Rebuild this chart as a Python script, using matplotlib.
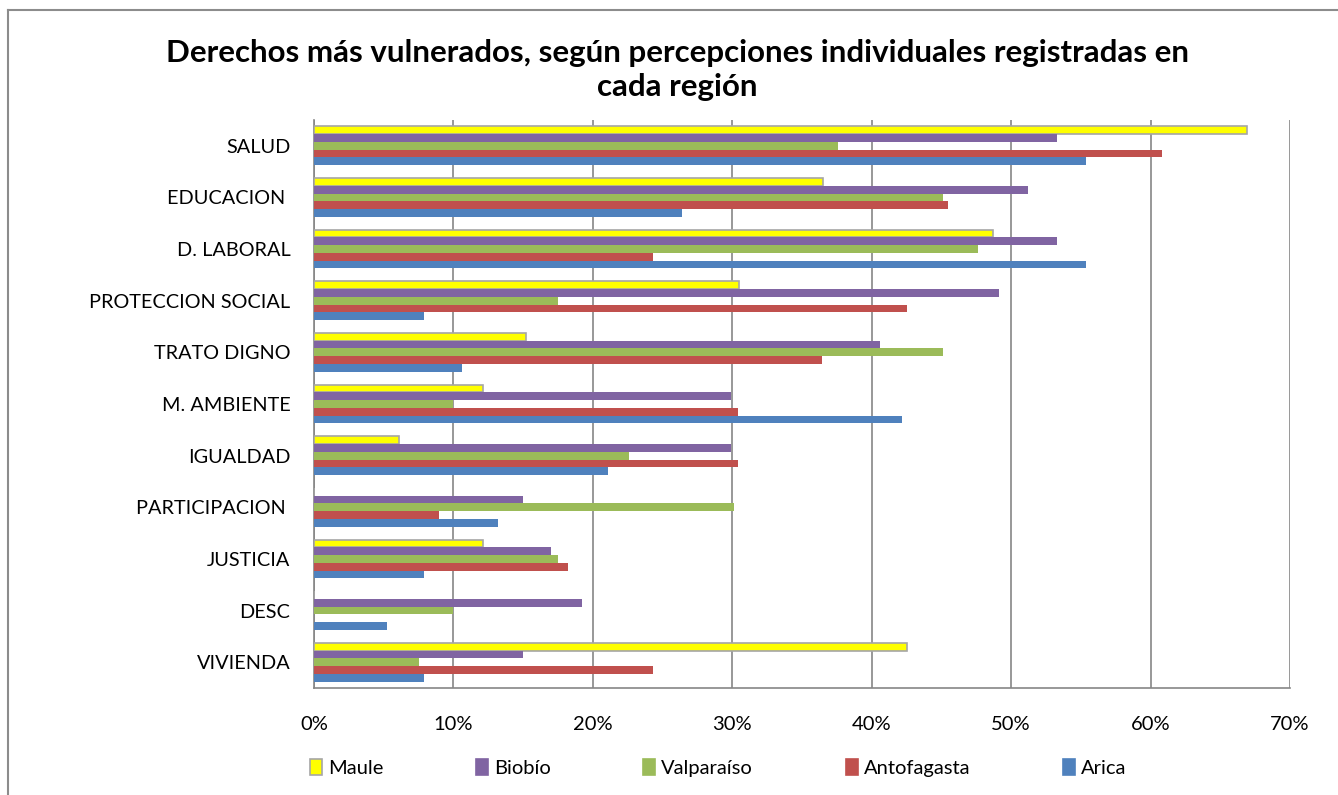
import matplotlib
matplotlib.use("Agg")
import matplotlib.pyplot as plt
import numpy as np
from matplotlib.patches import Rectangle
from matplotlib.lines import Line2D

categories = ["SALUD", "EDUCACION ", "D. LABORAL", "PROTECCION SOCIAL", "TRATO DIGNO",
              "M. AMBIENTE", "IGUALDAD", "PARTICIPACION ", "JUSTICIA", "DESC", "VIVIENDA"]
series_names = ["Maule", "Biobío", "Valparaíso", "Antofagasta", "Arica"]
maule       = [66.9, 36.5, 48.7, 30.5, 15.2, 12.1, 6.1, 0.0, 12.1, 0.0, 42.5]
biobio      = [53.3, 51.2, 53.3, 49.1, 40.6, 29.9, 29.9, 15.0, 17.0, 19.2, 15.0]
valparaiso  = [37.6, 45.1, 47.6, 17.5, 45.1, 10.0, 22.6, 30.1, 17.5, 10.0, 7.5]
antofagasta = [60.8, 45.5, 24.3, 42.5, 36.4, 30.4, 30.4, 9.0, 18.2, 0.0, 24.3]
arica       = [55.4, 26.4, 55.4, 7.9, 10.6, 42.2, 21.1, 13.2, 7.9, 5.2, 7.9]
x_ticks = [0, 10, 20, 30, 40, 50, 60, 70]
tick_labels = ["0%", "10%", "20%", "30%", "40%", "50%", "60%", "70%"]

values = [maule, biobio, valparaiso, antofagasta, arica]
colors = ["#FFFF00", "#8064A2", "#9BBB59", "#C0504D", "#4F81BD"]
edges = ["#A6A6A6", "none", "none", "none", "none"]

W, H = 1338, 795
fig = plt.figure(figsize=(W / 100, H / 100), dpi=100)
plt.rcParams['font.family'] = ['Lato', 'DejaVu Sans']

ax = fig.add_axes([314 / W, 1 - 688 / H, (1290 - 314) / W, (688 - 120) / H])

n = len(categories)
ypos = np.arange(n)[::-1]  # SALUD at top
bh = 0.15
for i, (vals, c, ec) in enumerate(zip(values, colors, edges)):
    off = (2 - i) * bh  # Maule topmost
    ax.barh(ypos + off, vals, height=bh, color=c, edgecolor=ec,
            linewidth=1.2 if ec != "none" else 0, label=series_names[i], zorder=3)

ax.set_xlim(0, 70)
ax.set_ylim(-0.5, n - 0.5)
ax.set_xticks(x_ticks)
ax.set_xticklabels(tick_labels, fontsize=14.5)
ax.set_yticks(ypos)
ax.set_yticklabels(categories, fontsize=14.3)
ax.tick_params(axis='y', length=0, pad=17)
ax.tick_params(axis='x', length=0, pad=20)
ax.grid(axis='x', color='#868686', linewidth=1.2, zorder=0)
ax.spines['top'].set_visible(False)
ax.spines['right'].set_visible(False)
ax.spines['left'].set_color('#868686')
ax.spines['bottom'].set_color('#868686')
ax.spines['left'].set_linewidth(1.2)
ax.spines['bottom'].set_linewidth(1.2)

fig.text(677 / W, 1 - 70 / H, "Derechos más vulnerados, según percepciones individuales registradas en\ncada región",
         ha='center', va='center', fontsize=22.5, fontweight='bold', linespacing=1.3)

handles = [Rectangle((0, 0), 1, 1, facecolor=c, edgecolor=(ec if ec != "none" else c), linewidth=1.2)
           for c, ec in zip(colors, edges)]
fig.legend(handles, series_names, loc='center', bbox_to_anchor=(718 / W, 1 - 768 / H), ncol=5,
           frameon=False, fontsize=14.5, handlelength=0.6, handleheight=0.8, handletextpad=0.3,
           columnspacing=4.6)

fig.add_artist(Line2D([8 / W, 8 / W], [0, 1 - 10 / H], transform=fig.transFigure,
                      color='#8C8C8C', linewidth=1.5))
fig.add_artist(Line2D([8 / W, 1], [1 - 10 / H, 1 - 10 / H], transform=fig.transFigure,
                      color='#8C8C8C', linewidth=1.5))

fig.savefig("out.png", dpi=100)
